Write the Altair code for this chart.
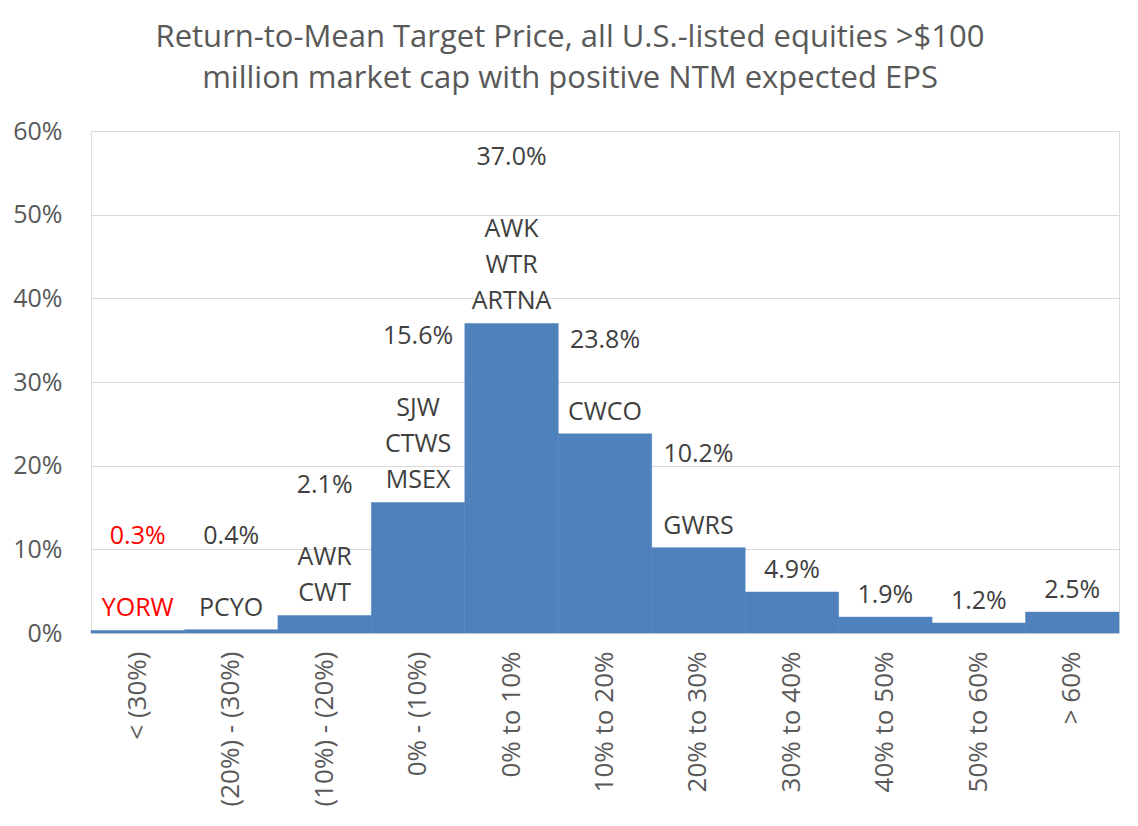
import altair as alt
import pandas as pd

categories = ["< (30%)", "(20%) - (30%)", "(10%) - (20%)", "0% - (10%)", "0% to 10%",
              "10% to 20%", "20% to 30%", "30% to 40%", "40% to 50%", "50% to 60%", "> 60%"]
shares_pct = [0.3, 0.4, 2.1, 15.6, 37.0, 23.8, 10.2, 4.9, 1.9, 1.2, 2.5]
tickers = [["YORW"], ["PCYO"], ["AWR", "CWT"], ["SJW", "CTWS", "MSEX"], ["AWK", "WTR", "ARTNA"],
           ["CWCO"], ["GWRS"], [], [], [], []]
title_lines = ["Return-to-Mean Target Price, all U.S.-listed equities >$100",
               "million market cap with positive NTM expected EPS"]

df = pd.DataFrame({
    "category": categories,
    "share": [v / 100 for v in shares_pct],
})

# one row per label line; k = number of line steps above the bottom line
rows = []
for c, v, t in zip(categories, shares_pct, tickers):
    n = 1 + (len(t) + 1 if t else 0)
    rows.append({"category": c, "share": v / 100, "line": f"{v:.1f}%", "k": n - 1})
    for i, tk in enumerate(t):
        rows.append({"category": c, "share": v / 100, "line": tk, "k": len(t) - 1 - i})
lab = pd.DataFrame(rows)

FONT = "Open Sans"
GRAY = "#595959"
LH = 36

x = alt.X("category:N", sort=categories, title=None,
          scale=alt.Scale(paddingInner=0, paddingOuter=0),
          axis=alt.Axis(labelAngle=-90, labelFontSize=26, labelFont=FONT, labelColor=GRAY,
                        ticks=False, domainColor="#D9D9D9", labelPadding=18))
y = alt.Y("share:Q", title=None,
          scale=alt.Scale(domain=[0, 0.6], nice=False),
          axis=alt.Axis(format=".0%", values=[0, 0.1, 0.2, 0.3, 0.4, 0.5, 0.6],
                        labelFontSize=25, labelFont=FONT, labelColor=GRAY,
                        ticks=False, domain=False, grid=True, gridColor="#D9D9D9",
                        gridWidth=1, labelPadding=29))

bars = alt.Chart(df).mark_bar(color="#4F81BD", stroke="#4F81BD", strokeWidth=0.5).encode(x=x, y=y)

layers = [bars]
for k in sorted(lab["k"].unique()):
    layers.append(
        alt.Chart(lab).transform_filter(alt.datum.k == int(k)).mark_text(
            font=FONT, fontSize=25, baseline="bottom", dy=-9 - int(k) * LH
        ).encode(
            x=alt.X("category:N", sort=categories),
            y=alt.Y("share:Q"),
            text="line:N",
            color=alt.condition(alt.datum.category == "< (30%)",
                                alt.value("#FF0000"), alt.value("#404040")),
        )
    )

chart = alt.layer(*layers).properties(
    width=1028, height=502,
    title=alt.TitleParams(text=title_lines, font=FONT, fontSize=31, fontWeight="normal",
                          color=GRAY, anchor="middle", frame="group", dx=-35, offset=24,
                          lineHeight=41),
    autosize=alt.AutoSizeParams(type="none"),
    padding={"left": 83, "top": 123, "right": 11, "bottom": 185},
).configure_view(stroke=None).configure(background="white")

chart.save("out.html", embed_options={"renderer": "svg", "actions": False})
